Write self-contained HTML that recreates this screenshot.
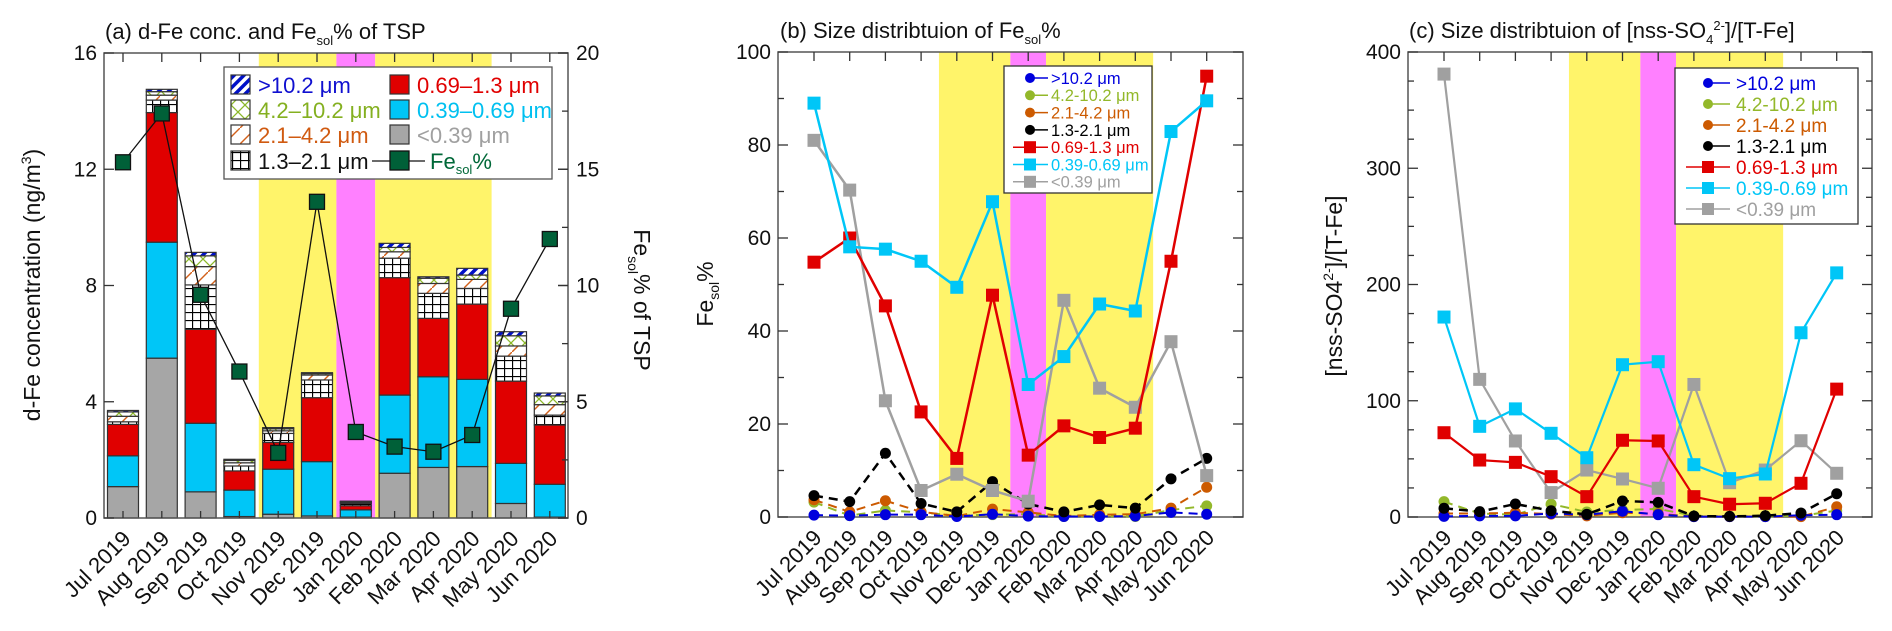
<!DOCTYPE html>
<html><head><meta charset="utf-8"><style>
html,body{margin:0;padding:0;background:#fff;}
svg{display:block;font-family:"Liberation Sans",Arial,sans-serif;}
</style></head><body>
<svg id="chart" width="1892" height="631" viewBox="0 0 1892 631" xmlns="http://www.w3.org/2000/svg">
<defs>
<pattern id="pGrid" patternUnits="userSpaceOnUse" width="8" height="8"><rect width="8" height="8" fill="#fff"/><path d="M0 0.5H8M0.5 0V8" stroke="#000" stroke-width="1.3"/></pattern>
<pattern id="pOrange" patternUnits="userSpaceOnUse" width="16" height="16"><rect width="16" height="16" fill="#fff"/><path d="M0 16L16 0" stroke="#d2601a" stroke-width="1.4"/></pattern>
<pattern id="pGreen" patternUnits="userSpaceOnUse" width="14" height="14"><rect width="14" height="14" fill="#fff"/><path d="M0 0L14 14M14 0L0 14" stroke="#8cb82a" stroke-width="1.3"/></pattern>
<pattern id="pBlue" patternUnits="userSpaceOnUse" width="7" height="7" patternTransform="rotate(45)"><rect width="7" height="7" fill="#fff"/><rect width="3.5" height="7" fill="#0010c8"/></pattern>
</defs>
<g id="layer"></g>
</svg>
<script>
// ---------- data ----------
const months = ['Jul 2019','Aug 2019','Sep 2019','Oct 2019','Nov 2019','Dec 2019','Jan 2020','Feb 2020','Mar 2020','Apr 2020','May 2020','Jun 2020'];
// Panel (a) stacked d-Fe concentrations (ng/m3) by size bin
const aLt039   = [1.08,5.5,0.9,0.05,0.13,0.07,0.03,1.54,1.74,1.77,0.5,0.03];
const a039_069 = [1.06,3.99,2.36,0.91,1.55,1.87,0.25,2.69,3.12,3.0,1.38,1.13];
const a069_13  = [1.08,4.46,3.23,0.66,0.92,2.2,0.14,4.04,2.01,2.59,2.83,2.04];
const a13_21   = [0.09,0.43,1.53,0.17,0.31,0.61,0.08,0.67,0.86,0.54,0.86,0.34];
const a21_42   = [0.19,0.17,0.63,0.11,0.09,0.17,0.03,0.22,0.34,0.31,0.35,0.36];
const a42_102  = [0.15,0.12,0.37,0.08,0.07,0.05,0.03,0.15,0.18,0.15,0.35,0.3];
const aGt102   = [0.05,0.08,0.12,0.04,0.04,0.03,0.02,0.14,0.05,0.23,0.14,0.1];
const aFesol   = [15.3,17.4,9.6,6.3,2.8,13.6,3.7,3.07,2.85,3.57,9.0,12.0];
// Panel (b) Fesol % by size
const bGt102   = [0.4,0.3,0.5,0.5,0.1,0.6,0.2,0.1,0.1,0.2,1.0,0.6];
const b42_102  = [3.2,0.3,1.4,1.0,0.3,0.5,0.6,0.1,0.2,0.1,1.5,2.4];
const b21_42   = [3.7,1.1,3.5,1.1,0.2,1.7,1.0,0.2,0.5,0.6,1.9,6.4];
const b13_21   = [4.6,3.3,13.7,2.9,1.1,7.6,2.8,1.1,2.6,1.9,8.2,12.6];
const b069_13  = [54.8,60,45.4,22.6,12.6,47.7,13.3,19.6,17.1,19.1,55,94.8];
const b039_069 = [89,58.1,57.6,55,49.4,67.8,28.5,34.5,45.8,44.3,82.9,89.5];
const bLt039   = [81,70.3,25,5.7,9.2,5.7,3.4,46.6,27.7,23.6,37.7,8.9];
// Panel (c) [nss-SO4]/[T-Fe] by size
const cGt102   = [0.5,1,1,3,2,5,2,0.3,0.3,0.3,1.5,2];
const c42_102  = [13.2,3,2,11.2,4.3,6,7,1,0.5,0.5,1,5.5];
const c21_42   = [3,3,3.7,2.5,1,3.7,2.8,0.3,0.3,0.3,0.3,8.8];
const c13_21   = [7.5,4.6,11.2,5.4,2.3,13.8,12.6,0.8,0.5,1.1,3.4,20];
const c069_13  = [72.5,49,47,34.7,17.5,66,65.4,17.5,11,11.8,29,110];
const c039_069 = [172,78,93,72,51,131,133.6,45,33,37,158.5,210];
const cLt039   = [381,118.4,65.4,21,40.4,32.7,24.7,114,29.5,40.4,65.6,37.6];
const aTicks = [0,4,8,12,16];
const aTicksR = [0,5,10,15,20];
const bTicks = [0,20,40,60,80,100];
const cTicks = [0,100,200,300,400];

// ---------- helpers ----------
const NS='http://www.w3.org/2000/svg';
const root=document.getElementById('layer');
function mk(tag, attrs, parent){const e=document.createElementNS(NS,tag);for(const k in attrs)e.setAttribute(k,attrs[k]);(parent||root).appendChild(e);return e;}
function txt(s, attrs, parent){const e=mk('text',attrs,parent);e.textContent=s;return e;}

// ---------- axes ----------
const A={l:104,r:568,t:53,b:518,x0:123,dx:38.8,max:16,max2:20};
const B={l:778,r:1243,t:52,b:517,x0:814,dx:35.7,max:100};
const C={l:1408,r:1872,t:52,b:517,x0:1444,dx:35.7,max:400};
function xOf(P,i){return P.x0+i*P.dx;}
function yOf(P,v){return P.b-(v/P.max)*(P.b-P.t);}
function yA2(v){return A.b-(v/A.max2)*(A.b-A.t);}
function mid(P,i){return P.x0+(i+0.5)*P.dx;}

function shading(P,name){
  const bands=[[3,5,'#fff46a','yellow-period-1'],[5,6,'#ff80ff','pink-period'],[6,9,'#fff46a','yellow-period-2']];
  bands.forEach(bd=>{
    const r=mk('rect',{x:mid(P,bd[0]),y:P.t,width:mid(P,bd[1])-mid(P,bd[0]),height:P.b-P.t,fill:bd[2]});
    
    
  });
}
function frame(P,name,minorStep,majorStep,ticks){
  const g=mk('g',{});
  
  
  mk('rect',{x:P.l,y:P.t,width:P.r-P.l,height:P.b-P.t,fill:'none',stroke:'#555','stroke-width':1.5},g);
  for(let v=0;v<=P.max+1e-9;v+=minorStep){
    const y=yOf(P,v);const major=Math.abs(v/majorStep-Math.round(v/majorStep))<1e-6;
    const len=major?10:6;
    mk('line',{x1:P.l,x2:P.l+len,y1:y,y2:y,stroke:'#333','stroke-width':1.3},g);
    mk('line',{x1:P.r,x2:P.r-len,y1:y,y2:y,stroke:'#333','stroke-width':1.3},g);
  }
  ticks.forEach(v=>{
    const t=txt(String(v),{x:P.l-7,y:yOf(P,v)+7,'text-anchor':'end','font-size':21,fill:'#111'},g);
    
    
  });
  months.forEach((m,i)=>{
    const x=xOf(P,i);
    mk('line',{x1:x,x2:x,y1:P.t,y2:P.t+9,stroke:'#333','stroke-width':1.3},g);
    mk('line',{x1:x,x2:x,y1:P.b,y2:P.b-7,stroke:'#333','stroke-width':1.3},g);
    const t=txt(m,{x:0,y:0,'text-anchor':'end','font-size':22,fill:'#111',transform:'translate('+(x+9)+','+(P.b+22)+') rotate(-45)'},g);
    
    
  });
}

// ---------- panel A ----------
shading(A,'panel-a');
const segs=[[aLt039,'#a6a6a6','lt039'],[a039_069,'#00c6f7','039-069'],[a069_13,'#e00000','069-13'],[a13_21,'url(#pGrid)','13-21'],[a21_42,'url(#pOrange)','21-42'],[a42_102,'url(#pGreen)','42-102'],[aGt102,'url(#pBlue)','gt102']];
months.forEach((m,i)=>{
  let cum=0;const x=xOf(A,i)-15.5;
  segs.forEach(s=>{
    const v=s[0][i];const y1=yOf(A,cum+v),y0=yOf(A,cum);
    const r=mk('rect',{x:x,y:y1,width:31,height:Math.max(0,y0-y1),fill:s[1],stroke:'#333','stroke-width':1.2});
    
    
    cum+=v;
  });
});
frame(A,'panel-a',4,4,aTicks);
for(let v=0;v<=20;v+=2.5){const y=yA2(v);const major=(v%5===0);mk('line',{x1:A.r,x2:A.r-(major?10:6),y1:y,y2:y,stroke:'#333','stroke-width':1.3});}
aTicksR.forEach(v=>{
  const t=txt(String(v),{x:A.r+8,y:yA2(v)+7,'font-size':21,fill:'#111'});
  
  
});
const fp=aFesol.map((v,i)=>xOf(A,i)+','+yA2(v)).join(' ');
const fl=mk('polyline',{points:fp,fill:'none',stroke:'#111','stroke-width':1.3});


aFesol.forEach((v,i)=>{
  const r=mk('rect',{x:xOf(A,i)-7.5,y:yA2(v)-7.5,width:15,height:15,fill:'#006038',stroke:'#111','stroke-width':1.3});
  
  
});
const lgA=mk('g',{});


mk('rect',{x:224,y:67,width:328,height:112,fill:'#fff',stroke:'#555','stroke-width':1.3},lgA);
const legA=[['url(#pBlue)','>10.2 μm','#1010d0',231,85],['url(#pGreen)','4.2–10.2 μm','#84b020',231,110],['url(#pOrange)','2.1–4.2 μm','#d05a10',231,135],['url(#pGrid)','1.3–2.1 μm','#111',231,161],['#e00000','0.69–1.3 μm','#e00000',390,85],['#00c6f7','0.39–0.69 μm','#00c0f0',390,110],['#a6a6a6','<0.39 μm','#a0a0a0',390,135]];
legA.forEach(l=>{
  mk('rect',{x:l[3],y:l[4]-10,width:19,height:19,fill:l[0],stroke:'#333','stroke-width':1.2},lgA);
  const t=txt(l[1],{x:l[3]+27,y:l[4]+8,'font-size':22,fill:l[2]},lgA);
  
  
});
mk('line',{x1:372,x2:425,y1:161,y2:161,stroke:'#111','stroke-width':1.3},lgA);
mk('rect',{x:390,y:151,width:19,height:19,fill:'#006038',stroke:'#111','stroke-width':1.3},lgA);
const fe=txt('Fe',{x:430,y:169,'font-size':22,fill:'#006838'},lgA);
const fs=mk('tspan',{dy:5,'font-size':13},fe);fs.textContent='sol';
const fpct=mk('tspan',{dy:-5},fe);fpct.textContent='%';



// ---------- panels B and C lines ----------
function series(P,vals,color,marker,dashed,name,sw){
  const pts=vals.map((v,i)=>xOf(P,i)+','+yOf(P,v)).join(' ');
  const pl=mk('polyline',{points:pts,fill:'none',stroke:color,'stroke-width':sw});
  if(dashed)pl.setAttribute('stroke-dasharray','9,6');
  
  
  vals.forEach((v,i)=>{
    let m;
    if(marker==='c')m=mk('circle',{cx:xOf(P,i),cy:yOf(P,v),r:5.5,fill:color});
    else m=mk('rect',{x:xOf(P,i)-6.5,y:yOf(P,v)-6.5,width:13,height:13,fill:color});
    
    
  });
}
const COL={blue:'#0000dd',green:'#93b82a',orange:'#cc5a00',black:'#000',red:'#e00000',cyan:'#00c6f7',gray:'#a0a0a0'};
function panelLines(P,pref,arrs,sw){
  series(P,arrs[1],COL.green,'c',true,pref+'-4-10',2);
  series(P,arrs[2],COL.orange,'c',true,pref+'-2-4',2);
  series(P,arrs[0],COL.blue,'c',true,pref+'-gt10',2);
  series(P,arrs[3],COL.black,'c',true,pref+'-1-2',2.5);
  series(P,arrs[6],COL.gray,'s',false,pref+'-lt039',sw);
  series(P,arrs[4],COL.red,'s',false,pref+'-069-13',sw);
  series(P,arrs[5],COL.cyan,'s',false,pref+'-039-069',sw);
}
shading(B,'panel-b');
frame(B,'panel-b',10,20,bTicks);
panelLines(B,'b',[bGt102,b42_102,b21_42,b13_21,b069_13,b039_069,bLt039],2.5);
shading(C,'panel-c');
frame(C,'panel-c',25,100,cTicks);
panelLines(C,'c',[cGt102,c42_102,c21_42,c13_21,c069_13,c039_069,cLt039],2.2);

function lineLegend(name,x0,y0,w,h,rows,fs,mx,tx,lx1,lx2){
  const g=mk('g',{});
  
  
  mk('rect',{x:x0,y:y0,width:w,height:h,fill:'#fff',stroke:'#333','stroke-width':1.3},g);
  const items=[['>10.2 μm',COL.blue,'c'],['4.2-10.2 μm',COL.green,'c'],['2.1-4.2 μm',COL.orange,'c'],['1.3-2.1 μm',COL.black,'c'],['0.69-1.3 μm',COL.red,'s'],['0.39-0.69 μm',COL.cyan,'s'],['<0.39 μm',COL.gray,'s']];
  items.forEach((it,k)=>{
    const y=rows[0]+k*rows[1];
    if(it[2]==='c'){mk('line',{x1:mx,x2:lx2,y1:y,y2:y,stroke:it[1],'stroke-width':1.5},g);mk('circle',{cx:mx,cy:y,r:5,fill:it[1]},g);}
    else{mk('line',{x1:lx1,x2:lx2,y1:y,y2:y,stroke:it[1],'stroke-width':1.5},g);mk('rect',{x:mx-6,y:y-6,width:12,height:12,fill:it[1]},g);}
    const t=txt(it[0],{x:tx,y:y+fs*0.36,'font-size':fs,fill:it[1]},g);
    
    
  });
}
lineLegend('panel-b-legend',1004,66,148,127,[78,17.3],16.5,1030,1051,1013,1048);
lineLegend('panel-c-legend',1675,68,183,156,[83,21],19,1708,1736,1686,1730);

// ---------- titles ----------
function title(x,y,parts,name,size){
  const t=txt('',{x:x,y:y,'font-size':size||22,fill:'#111'});
  parts.forEach(p=>{const s=mk('tspan',p[1]?{dy:p[1],'font-size':p[2]}:{},t);s.textContent=p[0];});
  
  
  return t;
}
title(105,39,[['(a) d-Fe conc. and Fe'],['sol',6,13],['% of TSP',-6,22]],'panel-a-title');
title(780,38,[['(b) Size distribtuion of Fe'],['sol',6,13],['%',-6,22]],'panel-b-title');
title(1409,38,[['(c) Size distribtuion of [nss-SO'],['4',6,13],['2-',-14,13],[']/[T-Fe]',8,22]],'panel-c-title');

const yt1=title(0,0,[['d-Fe concentration (ng/m'],['3',-9,14],[')',9,23]],'panel-a-y-axis-title',23);
yt1.setAttribute('transform','translate(40,285) rotate(-90)');yt1.setAttribute('text-anchor','middle');
const yt2=title(0,0,[['Fe'],['sol',6,14],['% of TSP',-6,23]],'panel-a-right-axis-title',23);
yt2.setAttribute('transform','translate(634,300) rotate(90)');yt2.setAttribute('text-anchor','middle');
const yt3=title(0,0,[['Fe'],['sol',6,14],['%',-6,23]],'panel-b-y-axis-title',23);
yt3.setAttribute('transform','translate(713,294) rotate(-90)');yt3.setAttribute('text-anchor','middle');
const yt4=title(0,0,[['[nss-SO4'],['2-',-9,14],[']/[T-Fe]',9,23]],'panel-c-y-axis-title',23);
yt4.setAttribute('transform','translate(1342,286) rotate(-90)');yt4.setAttribute('text-anchor','middle');
</script>
</body></html>
